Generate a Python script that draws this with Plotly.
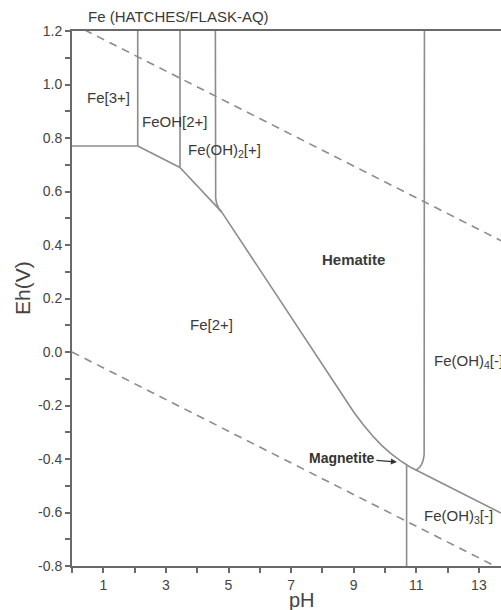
import plotly.graph_objects as go

# ---------------- data ----------------
# tick labels
ph_tick_vals = [1, 3, 5, 7, 9, 11, 13]
ph_tick_text = ["1", "3", "5", "7", "9", "11", "13"]
eh_tick_vals = [-0.8, -0.6, -0.4, -0.2, 0.0, 0.2, 0.4, 0.6, 0.8, 1.0, 1.2]
eh_tick_text = ["-0.8", "-0.6", "-0.4", "-0.2", "0.0", "0.2", "0.4", "0.6", "0.8", "1.0", "1.2"]

# water stability limits (dashed)
water_ph = [0.0, 14.0]
water_upper_eh = [1.228, 0.399]
water_lower_eh = [0.0, -0.829]

# predominance field boundaries (pH, Eh)
fe3_fe2_ph = [0.0, 2.10]
fe3_fe2_eh = [0.770, 0.770]

fe3_feoh_ph = [2.10, 2.10]
fe3_feoh_eh = [0.770, 1.25]

feoh_fe2_ph = [2.10, 3.45]
feoh_fe2_eh = [0.770, 0.690]

feoh_feoh2_ph = [3.45, 3.45]
feoh_feoh2_eh = [0.690, 1.25]

feoh2_fe2_ph = [3.45, 4.78]
feoh2_fe2_eh = [0.690, 0.524]

feoh2_hem_ph = [4.58, 4.58, 4.59, 4.62, 4.67, 4.72, 4.78]
feoh2_hem_eh = [1.25, 0.600, 0.575, 0.555, 0.540, 0.530, 0.524]

hem_fe2_ph = [4.78, 8.60, 9.00, 9.30, 9.60, 9.90, 10.20, 10.50, 10.70, 10.80]
hem_fe2_eh = [0.524, -0.155, -0.224, -0.271, -0.313, -0.350, -0.381, -0.407, -0.423, -0.430]

fe2_feoh3_ph = [10.69, 10.69]
fe2_feoh3_eh = [-0.423, -0.85]

feoh3_feoh4_ph = [10.80, 13.706]
feoh3_feoh4_eh = [-0.430, -0.602]

hem_feoh4_ph = [11.26, 11.26, 11.25, 11.22, 11.17, 11.10, 11.00]
hem_feoh4_eh = [1.25, -0.360, -0.385, -0.405, -0.420, -0.432, -0.441]

boundaries = [
    (fe3_fe2_ph, fe3_fe2_eh),
    (fe3_feoh_ph, fe3_feoh_eh),
    (feoh_fe2_ph, feoh_fe2_eh),
    (feoh_feoh2_ph, feoh_feoh2_eh),
    (feoh2_fe2_ph, feoh2_fe2_eh),
    (feoh2_hem_ph, feoh2_hem_eh),
    (hem_fe2_ph, hem_fe2_eh),
    (fe2_feoh3_ph, fe2_feoh3_eh),
    (feoh3_feoh4_ph, feoh3_feoh4_eh),
    (hem_feoh4_ph, hem_feoh4_eh),
]

# field labels
label_text = ["Fe[3+]", "FeOH[2+]", "Fe(OH)<sub>2</sub>[+]", "<b>Hematite</b>",
              "Fe[2+]", "Fe(OH)<sub>4</sub>[-]", "Fe(OH)<sub>3</sub>[-]"]
label_ph = [1.17, 3.29, 4.86, 9.00, 4.47, 11.50, 11.17]
label_eh = [0.950, 0.861, 0.752, 0.344, 0.101, -0.036, -0.616]
label_anchor = ["center", "center", "center", "center", "center", "left", "left"]

magnetite_ph = 10.38
magnetite_eh = -0.411

# ---------------- figure ----------------
LINE = "#8c8c8c"
AXIS = "#6a6a6a"
TXT = "#3a3a3a"
FONT = "Liberation Sans, Arial, sans-serif"

fig = go.Figure()

for yv in (water_upper_eh, water_lower_eh):
    fig.add_trace(go.Scatter(x=water_ph, y=yv, mode="lines",
                             line=dict(color=LINE, width=1.6, dash="8px,6px"),
                             hoverinfo="skip", showlegend=False))

for bx, by in boundaries:
    fig.add_trace(go.Scatter(x=bx, y=by, mode="lines",
                             line=dict(color=LINE, width=1.6),
                             hoverinfo="skip", showlegend=False))

for t, px, py, an in zip(label_text, label_ph, label_eh, label_anchor):
    fig.add_annotation(x=px, y=py, text=t, showarrow=False, xanchor=an,
                       yanchor="middle",
                       font=dict(family=FONT, size=15, color=TXT))

fig.add_annotation(x=magnetite_ph, y=magnetite_eh, text="<b>Magnetite</b>",
                   showarrow=True, arrowhead=2, arrowsize=1, arrowwidth=1.2,
                   arrowcolor="#333", ax=-55, ay=-4, standoff=0,
                   font=dict(family=FONT, size=14, color="#333"))

# axis titles
fig.add_annotation(xref="paper", yref="paper", x=(302 - 72) / 429, y=(566 - 600) / 535,
                   xanchor="center", yanchor="middle",
                   text="pH", showarrow=False,
                   font=dict(family=FONT, size=20, color="#444"))
fig.add_annotation(xref="paper", yref="paper", x=(22 - 72) / 429, y=(566 - 288) / 535,
                   xanchor="center", yanchor="middle",
                   text="Eh(V)", showarrow=False, textangle=-90,
                   font=dict(family=FONT, size=21, color="#444"))

fig.update_layout(
    width=501, height=610,
    margin=dict(l=72, r=0, t=31, b=44),
    paper_bgcolor="white", plot_bgcolor="white",
    title=dict(text="Fe (HATCHES/FLASK-AQ)", x=88 / 501, xanchor="left",
               y=1 - 17 / 610, yanchor="middle",
               font=dict(family=FONT, size=15, color=TXT)),
    showlegend=False,
)

fig.update_xaxes(range=[0, 13.706], tickmode="array", tickvals=ph_tick_vals,
                 ticktext=ph_tick_text, ticks="outside", ticklen=5, tickwidth=1.5,
                 tickcolor=AXIS, showline=True, linecolor=AXIS, linewidth=2,
                 mirror=True, showgrid=False, zeroline=False,
                 tickfont=dict(family=FONT, size=14, color="#444"),
                 minor=dict(tickmode="linear", tick0=0, dtick=1, ticks="outside",
                            ticklen=5, tickwidth=1.5, tickcolor=AXIS, showgrid=False))
fig.update_yaxes(range=[-0.8, 1.2], tickmode="array", tickvals=eh_tick_vals,
                 ticktext=eh_tick_text, ticks="outside", ticklen=5, tickwidth=1.5,
                 tickcolor=AXIS, showline=True, linecolor=AXIS, linewidth=2,
                 mirror=False, showgrid=False, zeroline=False,
                 tickfont=dict(family=FONT, size=14, color="#444"),
                 minor=dict(tickmode="linear", tick0=0, dtick=0.1, ticks="outside",
                            ticklen=5, tickwidth=1.5, tickcolor=AXIS, showgrid=False))

fig.write_html("out.html", config={"displayModeBar": False},
               post_script="document.body.style.margin='0px';"
                           "document.body.style.overflow='hidden';")
